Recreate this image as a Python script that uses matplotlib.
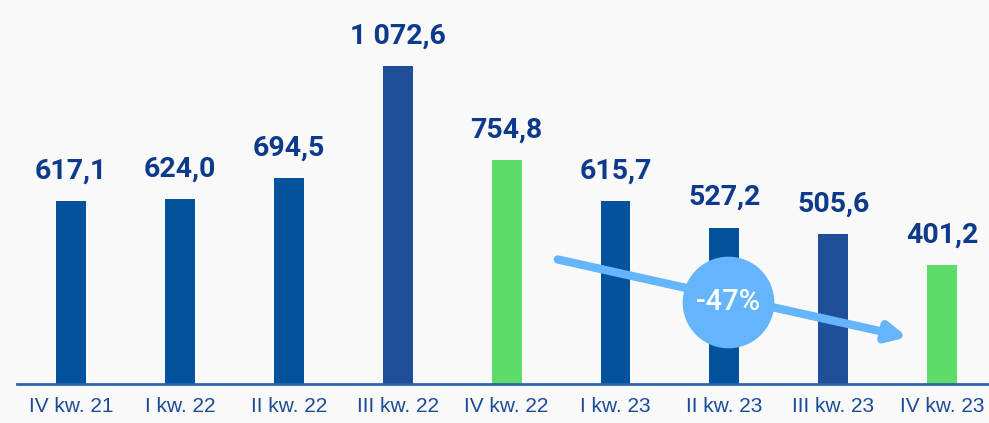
import matplotlib.pyplot as plt

quarters = ['IV kw. 21', 'I kw. 22', 'II kw. 22', 'III kw. 22', 'IV kw. 22',
            'I kw. 23', 'II kw. 23', 'III kw. 23', 'IV kw. 23']
values = [617.1, 624.0, 694.5, 1072.6, 754.8, 615.7, 527.2, 505.6, 401.2]
value_labels = ['617,1', '624,0', '694,5', '1 072,6', '754,8',
                '615,7', '527,2', '505,6', '401,2']
bar_colors = ['#02539c', '#02539c', '#02539c', '#1f4f98', '#5ddc6a',
              '#02539c', '#02539c', '#1f4f98', '#5ddc6a']
change_label = '-47%'

bg = '#f9f9f9'
fig = plt.figure(figsize=(9.89, 4.23), dpi=100, facecolor=bg)
ax = fig.add_axes([17 / 989, 39 / 423, 972 / 989, 384 / 423])
ax.set_facecolor(bg)

x = list(range(len(quarters)))
ax.bar(x, values, width=0.275, color=bar_colors, zorder=2)

for xi, v, lab in zip(x, values, value_labels):
    ax.annotate(lab, (xi, v), xytext=(0, 12), textcoords='offset points',
                ha='center', va='bottom', fontsize=20.5, fontweight='bold',
                family='Roboto', color='#0d3a8a')

ax.set_xlim(-0.496, 8.43)
ax.set_ylim(0, 1295)

for s in ['top', 'right', 'left']:
    ax.spines[s].set_visible(False)
ax.spines['bottom'].set_color('#2d62ad')
ax.spines['bottom'].set_linewidth(2)
ax.spines['bottom'].set_zorder(3)

ax.set_yticks([])
ax.set_xticks(x)
ax.set_xticklabels(quarters, fontsize=15, family='Liberation Sans', color='#1a4b96')
ax.tick_params(axis='x', length=0, pad=9)

# trend arrow with percentage badge
arrow_color = '#64b5fc'
ax.annotate('', xy=(7.68, 158), xytext=(4.47, 420),
            arrowprops=dict(arrowstyle='-|>', lw=6, mutation_scale=28,
                            color=arrow_color, shrinkA=0, shrinkB=0),
            zorder=4)
ax.scatter([6.03], [275], s=66 ** 2, color=arrow_color, zorder=5, linewidths=0)
ax.text(6.03, 275, change_label, ha='center', va='center', fontsize=21,
        family='Roboto', fontweight='medium', color='white', zorder=6)

fig.savefig('out.png', dpi=100, facecolor=bg)
